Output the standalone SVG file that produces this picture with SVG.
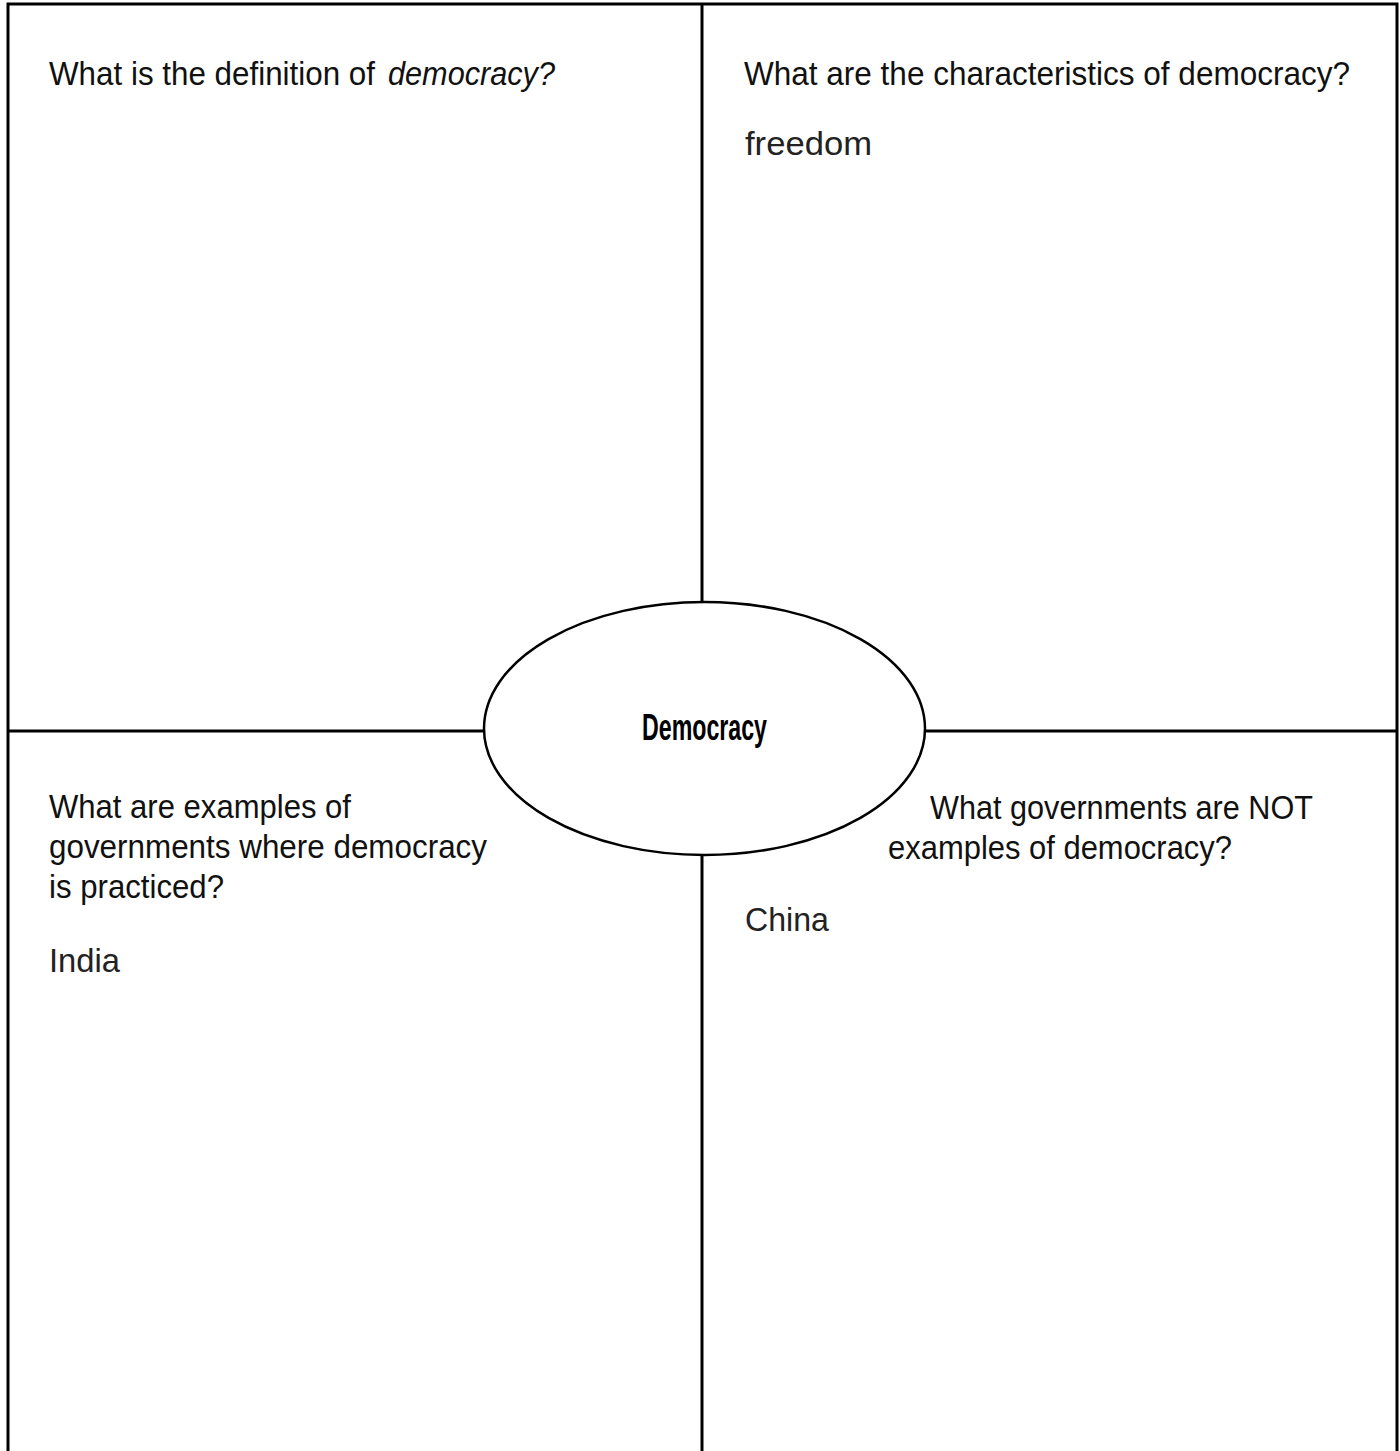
<svg xmlns="http://www.w3.org/2000/svg" width="1400" height="1451" viewBox="0 0 1400 1451">
<style>
.ln{stroke:#000;stroke-width:3;fill:none}
.q{font-family:"Liberation Sans Narrow","Liberation Sans",Arial,sans-serif;font-size:33px;fill:#111}
.a{font-family:"Liberation Sans",Arial,sans-serif;font-size:33px;fill:#222}
.c{font-family:"Liberation Sans Narrow","Liberation Sans",Arial,sans-serif;font-size:36px;font-weight:bold;fill:#000}
</style>
<rect width="1400" height="1451" fill="#fff"/>
<g id="connectors">
<path class="ln" d="M8 1451 V4 H1397 V1451"/>
<line class="ln" x1="702" y1="4" x2="702" y2="602"/>
<line class="ln" x1="702" y1="855" x2="702" y2="1451"/>
<line class="ln" x1="8" y1="731" x2="484" y2="731"/>
<line class="ln" x1="925" y1="731" x2="1397" y2="731"/>
</g>
<g id="q1">
<text class="q" x="49" y="85" textLength="326" lengthAdjust="spacingAndGlyphs">What is the definition of</text>
<text class="q" x="388" y="85" font-style="italic" textLength="167" lengthAdjust="spacingAndGlyphs">democracy?</text>
</g>
<g id="q2">
<text class="q" x="744" y="85" textLength="606" lengthAdjust="spacingAndGlyphs">What are the characteristics of democracy?</text>
<text class="a" x="745" y="155" textLength="127" lengthAdjust="spacingAndGlyphs">freedom</text>
</g>
<g id="q3">
<text class="q" x="49" y="818" textLength="302" lengthAdjust="spacingAndGlyphs">What are examples of</text>
<text class="q" x="49" y="858" textLength="438" lengthAdjust="spacingAndGlyphs">governments where democracy</text>
<text class="q" x="49" y="898" textLength="175" lengthAdjust="spacingAndGlyphs">is practiced?</text>
<text class="a" x="49" y="972" textLength="71" lengthAdjust="spacingAndGlyphs">India</text>
</g>
<g id="q4">
<text class="q" x="930" y="819" textLength="383" lengthAdjust="spacingAndGlyphs">What governments are NOT</text>
<text class="q" x="888" y="859" textLength="344" lengthAdjust="spacingAndGlyphs">examples of democracy?</text>
<text class="a" x="745" y="931" textLength="84" lengthAdjust="spacingAndGlyphs">China</text>
</g>
<g id="center">
<ellipse cx="704.5" cy="728.5" rx="220.5" ry="126.5" fill="#fff" stroke="#000" stroke-width="2.5"/>
<text class="c" x="642" y="740" textLength="125" lengthAdjust="spacingAndGlyphs">Democracy</text>
</g>
</svg>
